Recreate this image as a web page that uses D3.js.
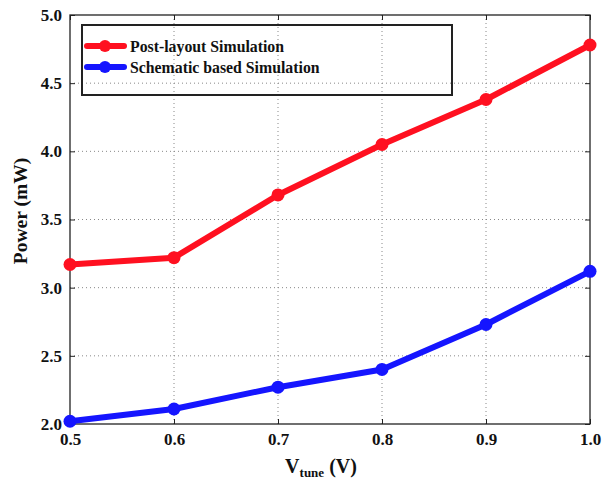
<!DOCTYPE html>
<html>
<head>
<meta charset="utf-8">
<script src="https://cdn.jsdelivr.net/npm/d3@7/dist/d3.min.js"></script>
<style>
  html, body { margin: 0; padding: 0; background: #fff; }
  svg { display: block; font-family: "Liberation Serif", "Times New Roman", serif; }
</style>
</head>
<body>
<div id="chart"></div>
<script>
// Tuning voltage (V) and power draw (mW) for both simulation runs
const vtune = [0.5, 0.6, 0.7, 0.8, 0.9, 1.0];
const postLayout = [3.17, 3.22, 3.68, 4.05, 4.38, 4.78];
const schematic = [2.02, 2.11, 2.27, 2.40, 2.73, 3.12];
const seriesNames = ["Post-layout Simulation", "Schematic based Simulation"];
const xTicks = [0.5, 0.6, 0.7, 0.8, 0.9, 1.0];
const yTicks = [2.0, 2.5, 3.0, 3.5, 4.0, 4.5, 5.0];

const W = 602, H = 479;
const margin = { left: 70, right: 12, top: 15, bottom: 55 };
const iw = W - margin.left - margin.right;
const ih = H - margin.top - margin.bottom;

const svg = d3.select("#chart").append("svg").attr("width", W).attr("height", H);
const g = svg.append("g").attr("transform", `translate(${margin.left},${margin.top})`);

const x = d3.scaleLinear().domain([0.5, 1.0]).range([0, iw]);
const y = d3.scaleLinear().domain([2.0, 5.0]).range([ih, 0]);

// dotted grid
const grid = g.append("g").attr("stroke", "#888").attr("stroke-width", 1)
  .attr("stroke-dasharray", "1,3");
grid.selectAll("line.v").data(xTicks.slice(1, -1)).join("line")
  .attr("x1", d => x(d)).attr("x2", d => x(d)).attr("y1", 0).attr("y2", ih);
grid.selectAll("line.h").data(yTicks.slice(1, -1)).join("line")
  .attr("y1", d => y(d)).attr("y2", d => y(d)).attr("x1", 0).attr("x2", iw);

// axes with inward ticks
const fmt = d3.format(".1f");
const styleAxis = sel => {
  sel.attr("font-family", null);
  sel.select(".domain").remove();
  sel.selectAll(".tick line").attr("stroke", "#222").attr("stroke-width", 1);
  sel.selectAll(".tick text").attr("font-family", "'Liberation Serif', serif")
    .attr("font-weight", "bold").attr("font-size", 17).attr("fill", "#111");
};
g.append("g").attr("transform", `translate(0,${ih})`)
  .call(d3.axisBottom(x).tickValues(xTicks).tickFormat(fmt).tickSizeInner(-5).tickPadding(9))
  .call(styleAxis);
g.append("g")
  .call(d3.axisLeft(y).tickValues(yTicks).tickFormat(fmt).tickSizeInner(-5).tickPadding(8))
  .call(styleAxis);
g.append("g")
  .call(d3.axisTop(x).tickValues(xTicks).tickFormat("").tickSizeInner(-5)).call(styleAxis);
g.append("g").attr("transform", `translate(${iw},0)`)
  .call(d3.axisRight(y).tickValues(yTicks).tickFormat("").tickSizeInner(-5)).call(styleAxis);

// plot frame
g.append("rect").attr("width", iw).attr("height", ih)
  .attr("fill", "none").attr("stroke", "#222").attr("stroke-width", 1.3);

// series
const series = [
  { name: seriesNames[0], values: postLayout, color: "#ff1020" },
  { name: seriesNames[1], values: schematic, color: "#1515ff" }
];
const line = d3.line().x((d, i) => x(vtune[i])).y(d => y(d));
series.forEach(s => {
  g.append("path").datum(s.values).attr("d", line)
    .attr("fill", "none").attr("stroke", s.color).attr("stroke-width", 6)
    .attr("stroke-linejoin", "round");
  g.selectAll(null).data(s.values).join("circle")
    .attr("cx", (d, i) => x(vtune[i])).attr("cy", d => y(d)).attr("r", 6.5)
    .attr("fill", s.color);
});

// legend
const lg = g.append("g").attr("transform", "translate(12,10)");
lg.append("rect").attr("width", 370).attr("height", 70)
  .attr("fill", "none").attr("stroke", "#222").attr("stroke-width", 2);
series.forEach((s, i) => {
  const yy = 21 + i * 21;
  lg.append("line").attr("x1", 5).attr("x2", 42).attr("y1", yy).attr("y2", yy)
    .attr("stroke", s.color).attr("stroke-width", 6).attr("stroke-linecap", "round");
  lg.append("circle").attr("cx", 23).attr("cy", yy).attr("r", 6).attr("fill", s.color);
  lg.append("text").attr("x", 48).attr("y", yy).attr("dy", "0.35em")
    .attr("font-weight", "bold").attr("font-size", 15.8).attr("fill", "#111").text(s.name);
});

// axis titles
const xl = svg.append("text").attr("x", 321).attr("y", 473)
  .attr("text-anchor", "middle").attr("font-weight", "bold").attr("fill", "#111");
xl.append("tspan").attr("font-size", 20).text("V");
xl.append("tspan").attr("font-size", 13).attr("dy", 4).text("tune");
xl.append("tspan").attr("font-size", 20).attr("dy", -4).text(" (V)");

svg.append("text").attr("transform", "translate(27,211) rotate(-90)")
  .attr("text-anchor", "middle").attr("font-weight", "bold").attr("font-size", 19.5)
  .attr("fill", "#111").text("Power (mW)");
</script>
</body>
</html>
